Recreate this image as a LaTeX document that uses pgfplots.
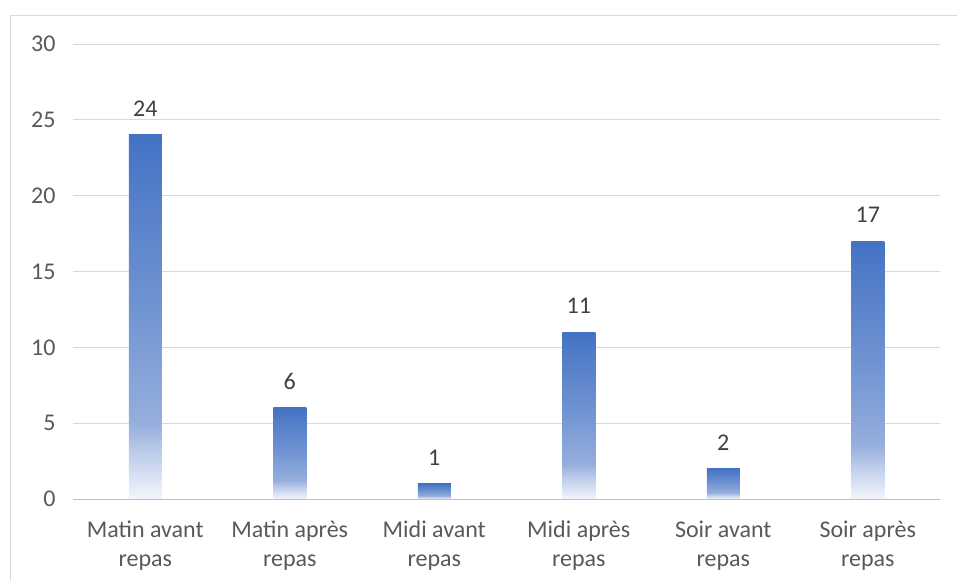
\documentclass[border=0pt]{standalone}
\usepackage{pgfplots}
\pgfplotsset{compat=1.18}
\usepackage{fontspec}
\setmainfont{Carlito}

\definecolor{barblue}{HTML}{4472C4}
\definecolor{barmid}{HTML}{7396D3}
\definecolor{barlight}{HTML}{95AEDC}
\definecolor{barpale}{HTML}{C9D5EE}
\definecolor{barwhite}{HTML}{F3F6FC}
\definecolor{gridgray}{HTML}{D9D9D9}
\definecolor{axisgray}{HTML}{BFBFBF}
\definecolor{ticktext}{HTML}{595959}
\definecolor{valtext}{HTML}{404040}

% vertical gradient of one bar: pale at the base, full blue at the top
\pgfdeclareverticalshading{barfade}{100bp}{%
  color(0bp)=(barwhite); color(25bp)=(barwhite);
  color(30bp)=(barpale); color(35.5bp)=(barlight);
  color(50bp)=(barmid); color(75bp)=(barblue); color(100bp)=(barblue)}

\newcommand\lblfont{\fontsize{24bp}{29bp}\selectfont}

\begin{document}
\begin{tikzpicture}
\path[use as bounding box] (0,0) rectangle (957bp,581bp);
\draw[gridgray, line width=0.8bp] (10.5bp,0) -- (10.5bp,566bp) -- (957bp,566bp);
\begin{axis}[
  at={(73bp,82bp)}, anchor=south west,
  scale only axis,
  width=867bp, height=455bp,
  xmin=-0.5, xmax=5.5,
  ymin=0, ymax=30,
  ytick={0,5,...,30},
  xtick={0,...,5},
  xticklabels={{Matin avant\\repas},{Matin après\\repas},{Midi avant\\repas},{Midi après\\repas},{Soir avant\\repas},{Soir après\\repas}},
  x tick label style={align=center, font=\lblfont, text=ticktext, yshift=-18bp},
  y tick label style={font=\lblfont, text=ticktext, xshift=-14bp},
  /pgf/number format/assume math mode=true,
  axis line style={draw=none},
  major tick length=0pt,
  ymajorgrids,
  grid style={gridgray, line width=0.8bp},
  ybar,
  bar width=33bp,
  nodes near coords,
  every node near coord/.append style={font=\lblfont, text=valtext, yshift=15bp},
  clip=false,
]
% one plot per bar, so that each bar gets its own gradient
\addplot[draw=none, shading=barfade, bar shift=0pt] coordinates {(0,24)};
\addplot[draw=none, shading=barfade, bar shift=0pt] coordinates {(1,6)};
\addplot[draw=none, shading=barfade, bar shift=0pt] coordinates {(2,1)};
\addplot[draw=none, shading=barfade, bar shift=0pt] coordinates {(3,11)};
\addplot[draw=none, shading=barfade, bar shift=0pt] coordinates {(4,2)};
\addplot[draw=none, shading=barfade, bar shift=0pt] coordinates {(5,17)};
\draw[axisgray, line width=0.9bp] (axis cs:-0.5,0) -- (axis cs:5.5,0);
\end{axis}
\end{tikzpicture}
\end{document}
